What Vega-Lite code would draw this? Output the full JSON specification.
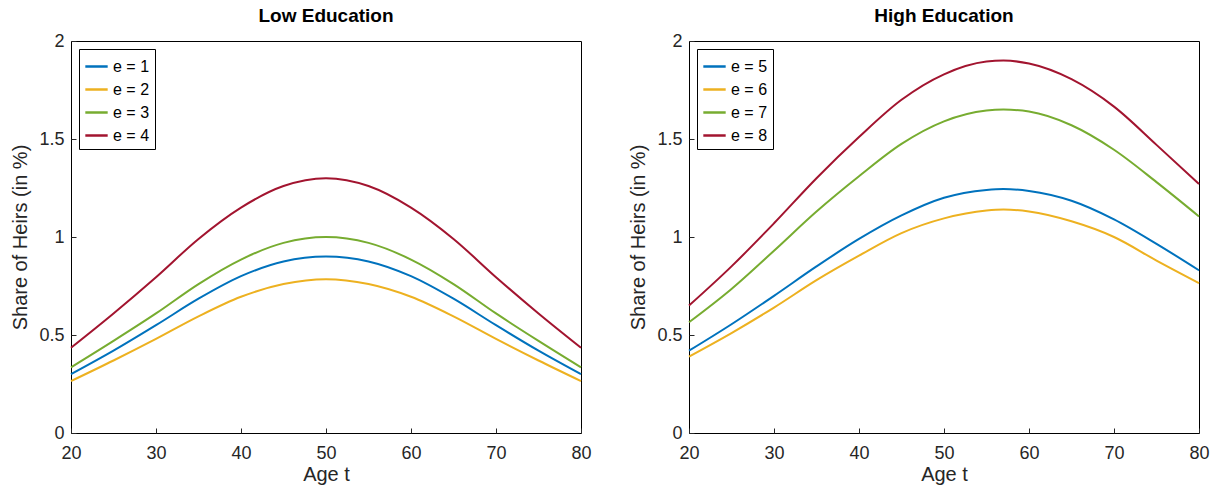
{
  "$schema": "https://vega.github.io/schema/vega-lite/v6.json",
  "background": "white",
  "padding": {"left": 10, "top": 6, "right": 20, "bottom": 0},
  "config": {
    "font": "Liberation Sans",
    "view": {"stroke": "black", "strokeWidth": 1},
    "axis": {"labelFontSize": 18, "titleFontSize": 20, "titleFontWeight": "normal", "labelColor": "#262626", "titleColor": "#262626", "domain": false, "grid": false, "tickColor": "#262626", "tickSize": -5, "labelFlush": false},
    "axisX": {"labelPadding": 16, "titlePadding": 2},
    "axisY": {"labelPadding": 12, "titlePadding": 8},
    "title": {"fontSize": 19, "fontWeight": "bold", "color": "black", "offset": 6},
    "legend": {"orient": "top-left", "title": null, "labelFontSize": 16, "strokeColor": "black", "fillColor": "white", "padding": 5, "symbolType": "stroke", "symbolStrokeWidth": 2.5, "symbolSize": 500, "rowPadding": 2, "offset": 8}
  },
  "datasets": {
    "low": [
      {"e": "e = 1", "age": 20, "share": 0.30}, {"e": "e = 1", "age": 25, "share": 0.42}, {"e": "e = 1", "age": 30, "share": 0.55}, {"e": "e = 1", "age": 35, "share": 0.685}, {"e": "e = 1", "age": 40, "share": 0.80}, {"e": "e = 1", "age": 45, "share": 0.875}, {"e": "e = 1", "age": 50, "share": 0.90}, {"e": "e = 1", "age": 55, "share": 0.875}, {"e": "e = 1", "age": 60, "share": 0.80}, {"e": "e = 1", "age": 65, "share": 0.685}, {"e": "e = 1", "age": 70, "share": 0.55}, {"e": "e = 1", "age": 75, "share": 0.42}, {"e": "e = 1", "age": 80, "share": 0.30},
      {"e": "e = 2", "age": 20, "share": 0.265}, {"e": "e = 2", "age": 25, "share": 0.37}, {"e": "e = 2", "age": 30, "share": 0.48}, {"e": "e = 2", "age": 35, "share": 0.595}, {"e": "e = 2", "age": 40, "share": 0.695}, {"e": "e = 2", "age": 45, "share": 0.76}, {"e": "e = 2", "age": 50, "share": 0.785}, {"e": "e = 2", "age": 55, "share": 0.76}, {"e": "e = 2", "age": 60, "share": 0.695}, {"e": "e = 2", "age": 65, "share": 0.595}, {"e": "e = 2", "age": 70, "share": 0.48}, {"e": "e = 2", "age": 75, "share": 0.37}, {"e": "e = 2", "age": 80, "share": 0.265},
      {"e": "e = 3", "age": 20, "share": 0.335}, {"e": "e = 3", "age": 25, "share": 0.47}, {"e": "e = 3", "age": 30, "share": 0.61}, {"e": "e = 3", "age": 35, "share": 0.76}, {"e": "e = 3", "age": 40, "share": 0.885}, {"e": "e = 3", "age": 45, "share": 0.97}, {"e": "e = 3", "age": 50, "share": 1.0}, {"e": "e = 3", "age": 55, "share": 0.97}, {"e": "e = 3", "age": 60, "share": 0.885}, {"e": "e = 3", "age": 65, "share": 0.76}, {"e": "e = 3", "age": 70, "share": 0.61}, {"e": "e = 3", "age": 75, "share": 0.47}, {"e": "e = 3", "age": 80, "share": 0.335},
      {"e": "e = 4", "age": 20, "share": 0.435}, {"e": "e = 4", "age": 25, "share": 0.61}, {"e": "e = 4", "age": 30, "share": 0.795}, {"e": "e = 4", "age": 35, "share": 0.99}, {"e": "e = 4", "age": 40, "share": 1.15}, {"e": "e = 4", "age": 45, "share": 1.26}, {"e": "e = 4", "age": 50, "share": 1.3}, {"e": "e = 4", "age": 55, "share": 1.26}, {"e": "e = 4", "age": 60, "share": 1.15}, {"e": "e = 4", "age": 65, "share": 0.99}, {"e": "e = 4", "age": 70, "share": 0.795}, {"e": "e = 4", "age": 75, "share": 0.61}, {"e": "e = 4", "age": 80, "share": 0.435}
    ],
    "high": [
      {"e": "e = 5", "age": 20, "share": 0.42}, {"e": "e = 5", "age": 25, "share": 0.555}, {"e": "e = 5", "age": 30, "share": 0.70}, {"e": "e = 5", "age": 35, "share": 0.85}, {"e": "e = 5", "age": 40, "share": 0.99}, {"e": "e = 5", "age": 45, "share": 1.11}, {"e": "e = 5", "age": 50, "share": 1.20}, {"e": "e = 5", "age": 55, "share": 1.24}, {"e": "e = 5", "age": 57, "share": 1.245}, {"e": "e = 5", "age": 60, "share": 1.235}, {"e": "e = 5", "age": 65, "share": 1.185}, {"e": "e = 5", "age": 70, "share": 1.09}, {"e": "e = 5", "age": 75, "share": 0.965}, {"e": "e = 5", "age": 80, "share": 0.83},
      {"e": "e = 6", "age": 20, "share": 0.39}, {"e": "e = 6", "age": 25, "share": 0.51}, {"e": "e = 6", "age": 30, "share": 0.64}, {"e": "e = 6", "age": 35, "share": 0.78}, {"e": "e = 6", "age": 40, "share": 0.905}, {"e": "e = 6", "age": 45, "share": 1.02}, {"e": "e = 6", "age": 50, "share": 1.095}, {"e": "e = 6", "age": 55, "share": 1.135}, {"e": "e = 6", "age": 57, "share": 1.14}, {"e": "e = 6", "age": 60, "share": 1.13}, {"e": "e = 6", "age": 65, "share": 1.08}, {"e": "e = 6", "age": 70, "share": 1.0}, {"e": "e = 6", "age": 75, "share": 0.88}, {"e": "e = 6", "age": 80, "share": 0.765},
      {"e": "e = 7", "age": 20, "share": 0.565}, {"e": "e = 7", "age": 25, "share": 0.735}, {"e": "e = 7", "age": 30, "share": 0.93}, {"e": "e = 7", "age": 35, "share": 1.13}, {"e": "e = 7", "age": 40, "share": 1.31}, {"e": "e = 7", "age": 45, "share": 1.475}, {"e": "e = 7", "age": 50, "share": 1.59}, {"e": "e = 7", "age": 55, "share": 1.645}, {"e": "e = 7", "age": 57, "share": 1.65}, {"e": "e = 7", "age": 60, "share": 1.64}, {"e": "e = 7", "age": 65, "share": 1.57}, {"e": "e = 7", "age": 70, "share": 1.445}, {"e": "e = 7", "age": 75, "share": 1.28}, {"e": "e = 7", "age": 80, "share": 1.105},
      {"e": "e = 8", "age": 20, "share": 0.65}, {"e": "e = 8", "age": 25, "share": 0.85}, {"e": "e = 8", "age": 30, "share": 1.07}, {"e": "e = 8", "age": 35, "share": 1.30}, {"e": "e = 8", "age": 40, "share": 1.51}, {"e": "e = 8", "age": 45, "share": 1.70}, {"e": "e = 8", "age": 50, "share": 1.83}, {"e": "e = 8", "age": 55, "share": 1.895}, {"e": "e = 8", "age": 57, "share": 1.9}, {"e": "e = 8", "age": 60, "share": 1.885}, {"e": "e = 8", "age": 65, "share": 1.805}, {"e": "e = 8", "age": 70, "share": 1.665}, {"e": "e = 8", "age": 75, "share": 1.47}, {"e": "e = 8", "age": 80, "share": 1.27}
    ]
  },
  "resolve": {"scale": {"color": "independent"}, "legend": {"color": "independent"}},
  "spacing": 36,
  "hconcat": [
    {
      "title": "Low Education",
      "width": 510, "height": 392,
      "data": {"name": "low"},
      "mark": {"type": "line", "interpolate": "monotone", "strokeWidth": 2},
      "encoding": {
        "x": {"field": "age", "type": "quantitative", "title": "Age t", "scale": {"domain": [20, 80], "nice": false}, "axis": {"values": [20, 30, 40, 50, 60, 70, 80]}},
        "y": {"field": "share", "type": "quantitative", "title": "Share of Heirs (in %)", "scale": {"domain": [0, 2]}, "axis": {"values": [0, 0.5, 1, 1.5, 2], "format": "~g"}},
        "color": {"field": "e", "type": "nominal", "scale": {"domain": ["e = 1", "e = 2", "e = 3", "e = 4"], "range": ["#0072BD", "#EDB120", "#77AC30", "#A2142F"]}}
      }
    },
    {
      "title": "High Education",
      "width": 510, "height": 392,
      "data": {"name": "high"},
      "mark": {"type": "line", "interpolate": "monotone", "strokeWidth": 2},
      "encoding": {
        "x": {"field": "age", "type": "quantitative", "title": "Age t", "scale": {"domain": [20, 80], "nice": false}, "axis": {"values": [20, 30, 40, 50, 60, 70, 80]}},
        "y": {"field": "share", "type": "quantitative", "title": "Share of Heirs (in %)", "scale": {"domain": [0, 2]}, "axis": {"values": [0, 0.5, 1, 1.5, 2], "format": "~g"}},
        "color": {"field": "e", "type": "nominal", "scale": {"domain": ["e = 5", "e = 6", "e = 7", "e = 8"], "range": ["#0072BD", "#EDB120", "#77AC30", "#A2142F"]}}
      }
    }
  ]
}
